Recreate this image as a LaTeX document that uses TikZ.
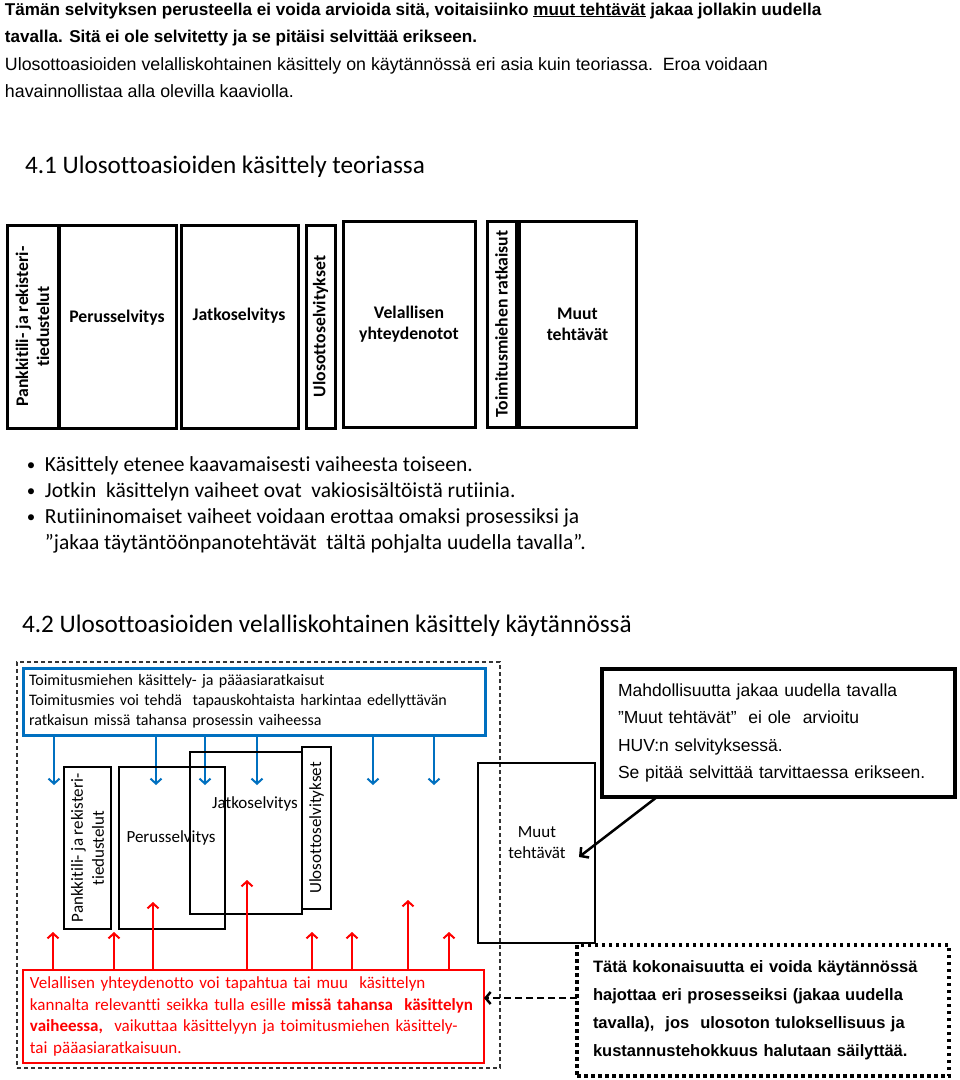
\documentclass[tikz,border=0pt]{standalone}
\usepackage{fontspec}
\setmainfont{Liberation Sans}
\newfontfamily\calfont[Ligatures=NoCommon]{Carlito}
\usetikzlibrary{arrows.meta}
\definecolor{offblue}{RGB}{0,112,192}
\definecolor{offred}{RGB}{255,0,0}
\newcommand\rbox[7]{\node[#1, minimum width={#5-#3}, minimum height={#6-#4}] (#2) at ({(#3+#5)/2},{(#4+#6)/2}) {#7};}
\begin{document}
\begin{tikzpicture}[x=1pt,y=-1pt,
  txt/.style={anchor=base west,inner sep=0pt,outer sep=0pt},
  parab/.style={txt,font=\bfseries\fontsize{17.1}{20}\selectfont},
  para/.style={txt,font=\fontsize{17.8}{20}\selectfont},
  head/.style={txt,font=\calfont\fontsize{25.2}{30}\selectfont},
  bul/.style={txt,font=\calfont\fontsize{21.5}{26}\selectfont},
  dot/.style={txt,font=\calfont\fontsize{17}{26}\selectfont},
  boxA/.style={draw,line width=3pt,inner sep=0pt,outer sep=0pt,align=center,font=\calfont\bfseries\fontsize{17.7}{21}\selectfont},
  labA/.style={inner sep=0pt,align=center,font=\calfont\bfseries\fontsize{17.7}{21}\selectfont},
  boxB/.style={draw,line width=2.2pt,inner sep=0pt,outer sep=0pt},
  labB/.style={inner sep=0pt,align=center,font=\calfont\fontsize{17}{21}\selectfont},
  barb/.style={-{Straight Barb[length=5pt,width=11pt,line width=2pt]}},
  barrow/.style={offblue,line width=2pt,barb},
  rarrow/.style={offred,line width=2pt,barb},
]
\fill[white] (0,0) rectangle (960,1080);
\useasboundingbox (0,0) rectangle (960,1080);

% intro text
\node[parab] (p1) at (5,15) {Tämän selvityksen perusteella ei voida arvioida sitä, voitaisiinko \underline{muut tehtävät} jakaa jollakin uudella};
\node[parab] (p2) at (5,42) {tavalla. Sitä ei ole selvitetty ja se pitäisi selvittää erikseen.};
\node[para] (p3) at (5,70) {Ulosottoasioiden velalliskohtainen käsittely on käytännössä eri asia kuin teoriassa.\ \ Eroa voidaan};
\node[para] (p4) at (5,97) {havainnollistaa alla olevilla kaaviolla.};

% 4.1
\node[head] (h41) at (25,173) {4.1 Ulosottoasioiden käsittely teoriassa};
\rbox{boxA}{a1}{7}{225}{58}{428}{}
\node[labA,rotate=90] (a1l) at (a1) {Pankkitili- ja rekisteri-\\tiedustelut};
\rbox{boxA}{a2}{59}{225}{176}{428}{}
\node[labA] (a2l) at (117,318) {Perusselvitys};
\rbox{boxA}{a3}{181}{225}{298}{428}{}
\node[labA] (a3l) at (239,316) {Jatkoselvitys};
\rbox{boxA}{a4}{306}{225}{335}{428}{}
\node[labA,rotate=90] (a4l) at (a4) {Ulosottoselvitykset};
\rbox{boxA}{a5}{343}{221}{475}{427}{Velallisen\\yhteydenotot}
\rbox{boxA}{a6}{487}{221}{516}{427}{}
\node[labA,rotate=90] (a6l) at (a6) {Toimitusmiehen ratkaisut};
\rbox{boxA}{a7}{519}{221}{636}{427}{Muut\\tehtävät}

% bullets
\node[dot] (d1) at (27,470) {\textbullet};
\node[bul] (u1) at (45,471) {Käsittely etenee kaavamaisesti vaiheesta toiseen.};
\node[dot] (d2) at (27,496) {\textbullet};
\node[bul] (u2) at (45,497) {Jotkin\ \ käsittelyn vaiheet ovat\ \ vakiosisältöistä rutiinia.};
\node[dot] (d3) at (27,522) {\textbullet};
\node[bul] (u3) at (45,523) {Rutiininomaiset vaiheet voidaan erottaa omaksi prosessiksi ja};
\node[bul] (u4) at (45,549) {”jakaa täytäntöönpanotehtävät\ \ tältä pohjalta uudella tavalla”.};

% 4.2
\node[head] (h42) at (22,632) {4.2 Ulosottoasioiden velalliskohtainen käsittely käytännössä};
\rbox{draw=black!80,line width=1.3pt,dash pattern=on 4pt off 3pt,inner sep=0pt,outer sep=0pt}{outer}{17}{662}{500}{1068}{}

\rbox{draw=offblue,line width=3pt,inner xsep=6pt,inner ysep=0pt,outer sep=0pt,text width=450pt,align=left,font=\calfont\fontsize{16}{20}\selectfont}{bluebox}{23}{668}{485}{735}{Toimitusmiehen käsittely- ja pääasiaratkaisut\\Toimitusmies voi tehdä\ \ tapauskohtaista harkintaa edellyttävän\\ratkaisun missä tahansa prosessin vaiheessa}

\foreach \i/\x in {1/54,2/156,3/205,4/257,5/373,6/434} {
  \coordinate (bt\i) at (\x,785);
  \draw[barrow] (bluebox.south -| bt\i) -- (bt\i);
}

\rbox{boxB}{b1}{64}{767}{111}{929}{}
\node[labB,rotate=90] (b1l) at (b1) {Pankkitili- ja rekisteri-\\tiedustelut};
\rbox{boxB}{b2}{119}{767}{225}{929}{}
\node[labB] (b2l) at (171,838) {Perusselvitys};
\rbox{boxB}{b3}{190}{752}{302}{914}{}
\node[labB] (b3l) at (255,804) {Jatkoselvitys};
\rbox{boxB}{b4}{302}{747}{331}{909}{}
\node[labB,rotate=90] (b4l) at (b4) {Ulosottoselvitykset};
\rbox{boxB}{b5}{478}{763}{595}{943}{}
\node[labB] (b5l) at (537,843) {Muut\\tehtävät};

\rbox{draw=offred,line width=2.5pt,inner xsep=7pt,inner ysep=0pt,outer sep=0pt,text width=447pt,align=left,text=offred,font=\calfont\fontsize{17}{21.5}\selectfont}{redbox}{23}{970}{484}{1063}{\mbox{Velallisen yhteydenotto voi tapahtua tai muu\ \ käsittelyn}\\\mbox{kannalta relevantti seikka tulla esille \textbf{missä tahansa\ \ käsittelyn}}\\\mbox{\textbf{vaiheessa,}\ \ vaikuttaa käsittelyyn ja toimitusmiehen käsittely-}\\tai pääasiaratkaisuun.}

\foreach \i/\x/\y in {1/53/932,2/114/932,3/153/902,4/247/880,5/312/932,6/352/932,7/408/900,8/449/932} {
  \coordinate (rt\i) at (\x,\y);
  \draw[rarrow] (redbox.north -| rt\i) -- (rt\i);
}

% callout
\rbox{draw=black,line width=3.5pt,inner xsep=16pt,inner ysep=0pt,outer sep=0pt,text width=321pt,align=left,font=\fontsize{17.5}{27.3}\selectfont}{callA}{602}{669}{955}{797}{Mahdollisuutta jakaa uudella tavalla\\”Muut tehtävät”\ \ ei ole\ \ arvioitu\\HUV:n selvityksessä.\\Se pitää selvittää tarvittaessa erikseen.}
\coordinate (ca) at (657,799);
\coordinate (ct) at (579,857);
\draw[black,line width=2.5pt,-{Straight Barb[length=6pt,width=13pt,line width=2.5pt]}] (callA.south -| ca) -- (ct);

% dotted box
\rbox{draw=black,line width=3.5pt,dash pattern=on 3.5pt off 3.5pt,inner xsep=16pt,inner ysep=0pt,outer sep=0pt,text width=340pt,align=left,font=\bfseries\fontsize{16.5}{28}\selectfont}{dotbox}{577}{945}{949}{1076}{Tätä kokonaisuutta ei voida käytännössä\\hajottaa eri prosesseiksi (jakaa uudella\\tavalla),\ \ jos\ \ ulosoton tuloksellisuus ja\\kustannustehokkuus halutaan säilyttää.}
\coordinate (da) at (577,998);
\draw[black,line width=2pt,dash pattern=on 7pt off 4pt,-{Straight Barb[length=5pt,width=12pt,line width=2.5pt]}] (dotbox.west |- da) -- (redbox.east |- da);
\end{tikzpicture}
\end{document}
